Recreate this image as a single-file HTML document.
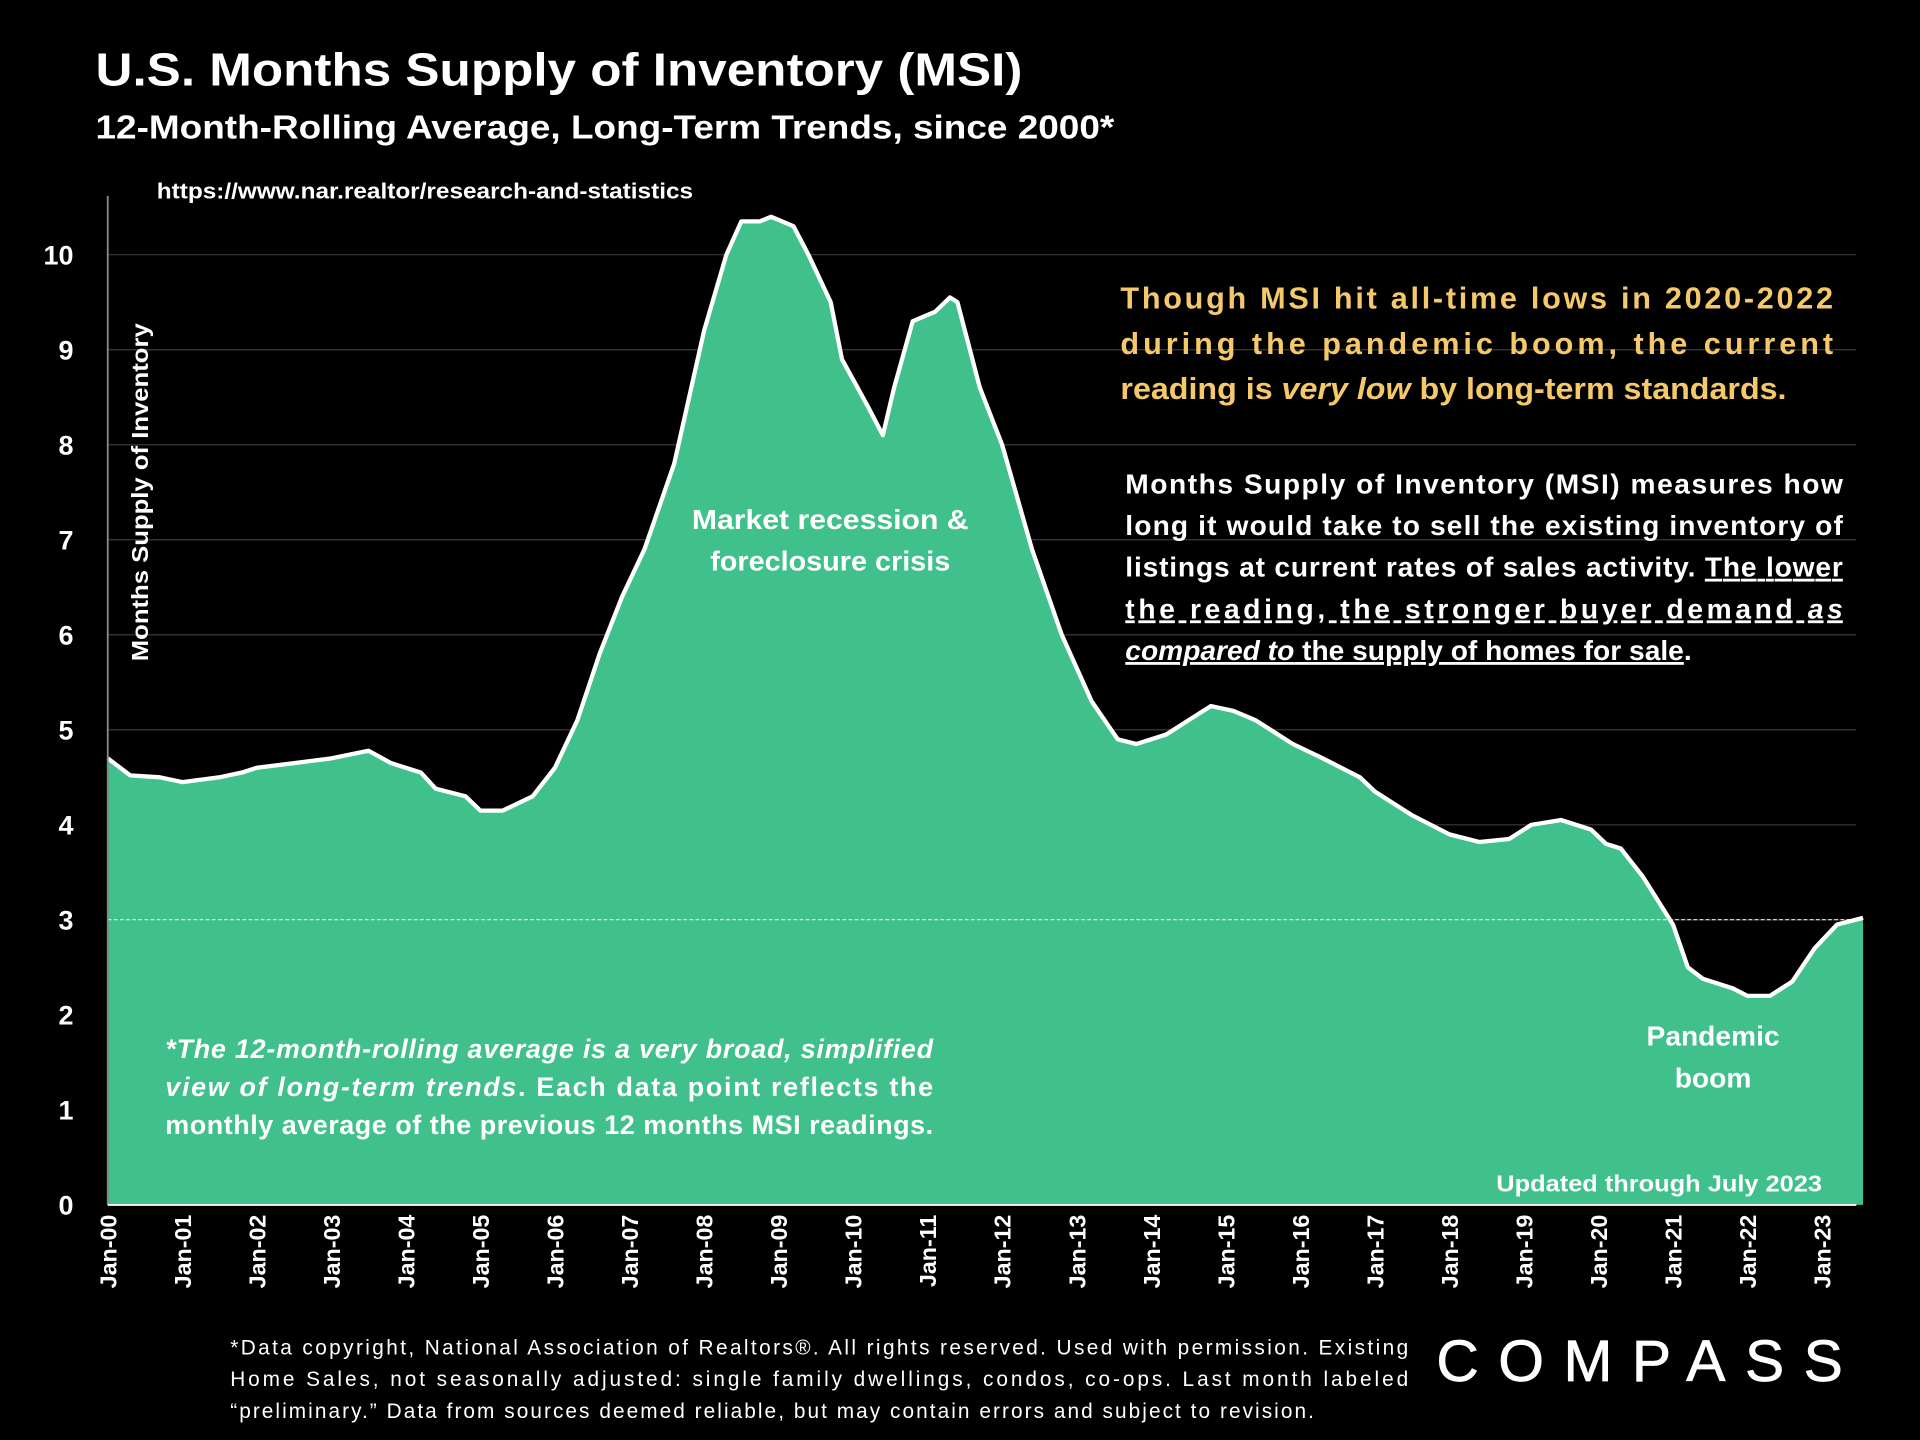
<!DOCTYPE html>
<html><head><meta charset="utf-8"><style>
html,body{margin:0;padding:0;background:#000;}
svg{display:block;}
text{font-family:"Liberation Sans",sans-serif;}
.b{font-weight:bold;}
.n{font-weight:normal;}
</style></head><body>
<svg id="chart" width="1920" height="1440" viewBox="0 0 1568 1176" xmlns="http://www.w3.org/2000/svg">
<rect width="1568" height="1176" fill="#000"/>
<text class="b" x="78" y="70" font-size="38" fill="#fff" textLength="757" lengthAdjust="spacingAndGlyphs">U.S. Months Supply of Inventory (MSI)</text>
<text class="b" x="78" y="113" font-size="27" fill="#fff" textLength="832" lengthAdjust="spacingAndGlyphs">12-Month-Rolling Average, Long-Term Trends, since 2000*</text>
<text class="b" x="128" y="162" font-size="18" fill="#fff" textLength="438" lengthAdjust="spacingAndGlyphs">https://www.nar.realtor/research-and-statistics</text>
<g id="grid"></g>
<path id="area" fill="#40c08a" stroke="none"/>
<line x1="88" x2="1516" y1="751" y2="751" stroke="#fff" stroke-width="1" stroke-dasharray="3,2" opacity="0.8"/>
<path id="line" fill="none" stroke="#fff" stroke-width="3.5" stroke-linejoin="round"/>
<line x1="88" x2="88" y1="160" y2="984" stroke="#888" stroke-width="1.5"/>
<line x1="88" x2="1516" y1="984" y2="984" stroke="#fff" stroke-width="1.5"/>
<g id="yticks"></g><g id="xticks"></g>
<text class="b" transform="translate(121,540) rotate(-90)" font-size="19" fill="#fff" textLength="276" lengthAdjust="spacingAndGlyphs">Months Supply of Inventory</text>
<g class="b" fill="#fff" font-size="23" text-anchor="middle" style="font-weight:bold">
<text x="678" y="432" textLength="226" lengthAdjust="spacingAndGlyphs">Market recession &amp;</text><text x="678" y="466" textLength="196" lengthAdjust="spacingAndGlyphs">foreclosure crisis</text></g>
<g fill="#fff" font-size="23" text-anchor="middle" style="font-weight:bold">
<text x="1399" y="854">Pandemic</text><text x="1399" y="888">boom</text></g>
<g fill="#f5c96a" font-size="25" style="font-weight:bold">
<text x="915" y="252" textLength="582" lengthAdjust="spacing">Though MSI hit all-time lows in 2020-2022</text>
<text x="915" y="289" textLength="582" lengthAdjust="spacing">during the pandemic boom, the current</text>
<text x="915" y="326" textLength="544" lengthAdjust="spacingAndGlyphs">reading is <tspan font-style="italic">very low</tspan> by long-term standards.</text></g>
<g fill="#fff" font-size="23" style="font-weight:bold">
<text x="919" y="403" textLength="586" lengthAdjust="spacing">Months Supply of Inventory (MSI) measures how</text>
<text x="919" y="437" textLength="586" lengthAdjust="spacing">long it would take to sell the existing inventory of</text>
<text x="919" y="471" textLength="586" lengthAdjust="spacing">listings at current rates of sales activity. <tspan text-decoration="underline">The lower</tspan></text>
<text x="919" y="505" textLength="586" lengthAdjust="spacing" text-decoration="underline">the reading, the stronger buyer demand <tspan font-style="italic">as</tspan></text>
<text x="919" y="539"><tspan text-decoration="underline"><tspan font-style="italic">compared to</tspan> the supply of homes for sale</tspan>.</text></g>
<g fill="#fff" font-size="22" style="font-weight:bold">
<text x="135" y="864" font-style="italic" textLength="627" lengthAdjust="spacing">*The 12-month-rolling average is a very broad, simplified</text>
<text x="135" y="895" textLength="627" lengthAdjust="spacing"><tspan font-style="italic">view of long-term trends</tspan>. Each data point reflects the</text>
<text x="135" y="926" textLength="627" lengthAdjust="spacing">monthly average of the previous 12 months MSI readings.</text></g>
<text class="b" x="1488" y="973" text-anchor="end" font-size="19" fill="#fff" textLength="266" lengthAdjust="spacingAndGlyphs">Updated through July 2023</text>
<g fill="#fff" font-size="17">
<text x="188" y="1106" textLength="962" lengthAdjust="spacing">*Data copyright, National Association of Realtors®. All rights reserved. Used with permission. Existing</text>
<text x="188" y="1132" textLength="962" lengthAdjust="spacing">Home Sales, not seasonally adjusted:  single family dwellings, condos, co-ops. Last month labeled</text>
<text x="188" y="1158" textLength="885" lengthAdjust="spacing">“preliminary.” Data from sources deemed reliable, but may contain errors and subject to revision.</text></g>
<text x="1173" y="1128" font-size="48" fill="#fff" stroke="#fff" stroke-width="0.6" textLength="332" lengthAdjust="spacing">COMPASS</text>
</svg>
<script>
const years=[2000.0,2000.3,2000.7,2001.0,2001.5,2001.8,2002.0,2002.5,2003.0,2003.5,2003.8,2004.2,2004.4,2004.8,2005.0,2005.3,2005.7,2006.0,2006.3,2006.6,2006.9,2007.2,2007.6,2008.0,2008.3,2008.5,2008.75,2008.9,2009.2,2009.4,2009.7,2009.85,2010.2,2010.4,2010.55,2010.8,2011.1,2011.3,2011.4,2011.7,2012.0,2012.4,2012.8,2013.2,2013.55,2013.8,2014.2,2014.5,2014.8,2015.1,2015.4,2015.9,2016.3,2016.8,2017.0,2017.5,2018.0,2018.4,2018.8,2019.1,2019.5,2019.9,2020.1,2020.3,2020.6,2021.0,2021.2,2021.4,2021.8,2022.0,2022.3,2022.6,2022.9,2023.2,2023.55];
const msiValues=[4.7,4.52,4.5,4.45,4.5,4.55,4.6,4.65,4.7,4.78,4.65,4.55,4.38,4.3,4.15,4.15,4.3,4.6,5.1,5.8,6.4,6.9,7.8,9.2,10.0,10.35,10.35,10.4,10.3,10.0,9.5,8.9,8.4,8.1,8.6,9.3,9.4,9.55,9.5,8.6,8.0,6.9,6.0,5.3,4.9,4.85,4.95,5.1,5.25,5.2,5.1,4.85,4.7,4.5,4.35,4.1,3.9,3.82,3.85,4.0,4.05,3.95,3.8,3.75,3.45,2.95,2.5,2.38,2.28,2.2,2.2,2.35,2.7,2.95,3.02];
const yTicks=[0,1,2,3,4,5,6,7,8,9,10];
const xTickLabels=["Jan-00","Jan-01","Jan-02","Jan-03","Jan-04","Jan-05","Jan-06","Jan-07","Jan-08","Jan-09","Jan-10","Jan-11","Jan-12","Jan-13","Jan-14","Jan-15","Jan-16","Jan-17","Jan-18","Jan-19","Jan-20","Jan-21","Jan-22","Jan-23"];
const NS="http://www.w3.org/2000/svg";
const xs=y=>88+(y-2000)*60.87;
const ys=v=>984-v*77.6;
const grid=document.getElementById('grid'),yt=document.getElementById('yticks'),xt=document.getElementById('xticks');
yTicks.forEach(v=>{
  if(v>0){const l=document.createElementNS(NS,'line');
  
  
  l.setAttribute('x1',88);l.setAttribute('x2',1516);l.setAttribute('y1',ys(v));l.setAttribute('y2',ys(v));
  l.setAttribute('stroke','#3a3a3a');l.setAttribute('stroke-width','1');grid.appendChild(l);}
  const t=document.createElementNS(NS,'text');
  
  
  t.setAttribute('class','b');
  t.setAttribute('x',60);t.setAttribute('y',ys(v)+8);t.setAttribute('text-anchor','end');
  t.setAttribute('font-size','22');t.setAttribute('fill','#fff');t.textContent=v;yt.appendChild(t);
});
xTickLabels.forEach((s,i)=>{
  const t=document.createElementNS(NS,'text');
  
  
  t.setAttribute('class','b');
  const x=xs(2000+i)+7;
  t.setAttribute('transform','translate('+x+',992) rotate(-90)');
  t.setAttribute('text-anchor','end');t.setAttribute('font-size','19');t.setAttribute('fill','#fff');
  t.textContent=s;xt.appendChild(t);
});
let d='';
years.forEach((y,i)=>{d+=(i?'L':'M')+xs(y).toFixed(1)+','+ys(msiValues[i]).toFixed(1);});
document.getElementById('line').setAttribute('d',d);
const last=xs(years[years.length-1]).toFixed(1);
document.getElementById('area').setAttribute('d',d+'L'+last+',984L88,984Z');
</script>
</body></html>
